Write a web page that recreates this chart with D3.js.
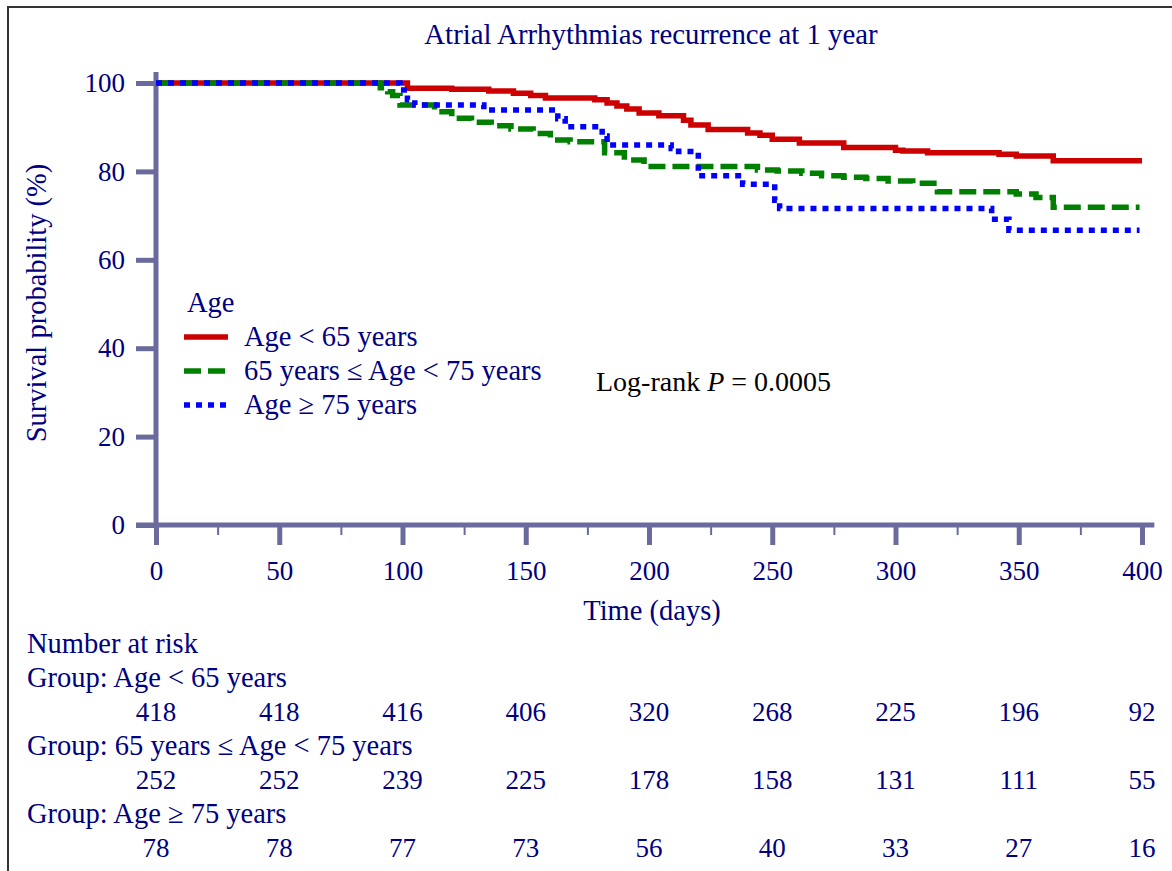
<!DOCTYPE html>
<html>
<head>
<meta charset="utf-8">
<script src="https://cdn.jsdelivr.net/npm/d3@7"></script>
<style>
  body { margin: 0; background: #fff; }
  svg { display: block; font-family: "Liberation Serif", "Times New Roman", serif; }
</style>
</head>
<body>
<div id="chart"></div>
<script>
// Kaplan-Meier steps (time in days, survival in %)
const lowTimes = [0, 102, 120, 135, 145, 152, 158, 178, 183, 187, 191, 196, 204, 214, 217, 224, 240, 245, 250, 261, 279, 300, 303, 313, 342, 349, 364, 400];
const lowSurv  = [100, 98.8, 98.6, 98.2, 97.7, 97.2, 96.6, 96.2, 95.5, 94.8, 94.1, 93.2, 92.6, 91.6, 90.5, 89.5, 88.7, 88.2, 87.3, 86.4, 85.4, 84.8, 84.6, 84.2, 83.9, 83.5, 82.4, 82.4];

const midTimes = [0, 91, 94, 96, 99, 113, 120, 128, 136, 144, 153, 160, 168, 182, 190, 198, 244, 252, 262, 270, 279, 288, 297, 307, 317, 349, 357, 364, 399];
const midSurv  = [100, 98.9, 98, 97.2, 95.0, 93.5, 92.0, 91.1, 90.3, 89.6, 88.6, 87.1, 86.7, 84.2, 82.6, 81.1, 80.3, 80.1, 79.6, 79.0, 78.7, 78.4, 77.8, 77.3, 75.4, 74.9, 74.1, 71.9, 71.9];

const highTimes = [0, 99, 102, 105, 133, 163, 166, 181, 183, 209, 212, 220, 238, 251, 253, 339, 346, 399];
const highSurv  = [100, 98.4, 96.2, 95.0, 93.9, 91.9, 90.1, 88.0, 86.0, 85.2, 84.5, 79.0, 77.1, 73.5, 71.6, 69.2, 66.7, 66.7];

const groupNames = ["Age < 65 years", "65 years \u2264 Age < 75 years", "Age \u2265 75 years"];
const groupColors = ["#cc0000", "#008000", "#0000ff"];
const groupDash = [null, "17,7", "6,6"];

const timeTicks = [0, 50, 100, 150, 200, 250, 300, 350, 400];
const minorTicks = [25, 75, 125, 175, 225, 275, 325, 375];
const survTicks = [0, 20, 40, 60, 80, 100];

const riskLow  = [418, 418, 416, 406, 320, 268, 225, 196, 92];
const riskMid  = [252, 252, 239, 225, 178, 158, 131, 111, 55];
const riskHigh = [78, 78, 77, 73, 56, 40, 33, 27, 16];

const width = 1172, height = 871;
const navy = "#000080", axisCol = "#6a6a9c";
const fs = 28.5;

const svg = d3.select("#chart").append("svg")
  .attr("width", width).attr("height", height);

// frame (cropped on right and bottom)
svg.append("path")
  .attr("d", `M8,${height + 5}V7H${width + 5}`)
  .attr("fill", "none").attr("stroke", "#333").attr("stroke-width", 2);

const x = d3.scaleLinear().domain([0, 400]).range([156, 1142]);
const y = d3.scaleLinear().domain([0, 100]).range([525, 83]);

// title
svg.append("text")
  .attr("x", x(200) + 2).attr("y", 44)
  .attr("text-anchor", "middle").attr("font-size", 28.8).attr("fill", navy)
  .text("Atrial Arrhythmias recurrence at 1 year");

// y axis
const yAxis = svg.append("g")
  .attr("transform", `translate(${x(0)},0)`)
  .call(d3.axisLeft(y).tickValues(survTicks).tickSize(20).tickSizeOuter(0).tickPadding(11));
yAxis.select(".domain").remove();
yAxis.selectAll("line").attr("stroke", axisCol).attr("stroke-width", 5);
yAxis.selectAll("text").attr("font-size", 27).attr("fill", navy)
  .attr("font-family", "Liberation Serif, Times New Roman, serif");
svg.append("line")
  .attr("x1", x(0)).attr("x2", x(0)).attr("y1", y(102.5)).attr("y2", y(0) + 2)
  .attr("stroke", axisCol).attr("stroke-width", 5);

// x axis
const xAxis = svg.append("g")
  .attr("transform", `translate(0,${y(0)})`)
  .call(d3.axisBottom(x).tickValues(timeTicks).tickSize(20).tickSizeOuter(0).tickPadding(16));
xAxis.select(".domain").remove();
xAxis.selectAll("line").attr("stroke", axisCol).attr("stroke-width", 5);
xAxis.selectAll("text").attr("font-size", 27).attr("fill", navy)
  .attr("font-family", "Liberation Serif, Times New Roman, serif");
const xMinor = svg.append("g")
  .attr("transform", `translate(0,${y(0)})`)
  .call(d3.axisBottom(x).tickValues(minorTicks).tickSize(10).tickFormat(""));
xMinor.select(".domain").remove();
xMinor.selectAll("line").attr("stroke", axisCol).attr("stroke-width", 2);
svg.append("line")
  .attr("x1", x(0) - 20).attr("x2", x(405)).attr("y1", y(0)).attr("y2", y(0))
  .attr("stroke", axisCol).attr("stroke-width", 5);

// axis labels
svg.append("text")
  .attr("transform", "rotate(-90)")
  .attr("x", -y(50) + 1).attr("y", 46)
  .attr("text-anchor", "middle").attr("font-size", fs).attr("fill", navy)
  .text("Survival probability (%)");
svg.append("text")
  .attr("x", x(200) + 3).attr("y", 620)
  .attr("text-anchor", "middle").attr("font-size", fs).attr("fill", navy)
  .text("Time (days)");

// curves
const line = d3.line()
  .x(d => x(d[0])).y(d => y(d[1]))
  .curve(d3.curveStepAfter);
const curves = [
  d3.zip(lowTimes, lowSurv),
  d3.zip(midTimes, midSurv),
  d3.zip(highTimes, highSurv)
];
curves.forEach((pts, i) => {
  svg.append("path")
    .datum(pts)
    .attr("d", line)
    .attr("fill", "none")
    .attr("stroke", groupColors[i])
    .attr("stroke-width", 5.5)
    .attr("stroke-dasharray", groupDash[i]);
});

// legend
svg.append("text")
  .attr("x", 187).attr("y", 312)
  .attr("font-size", fs).attr("fill", navy).text("Age");
groupNames.forEach((name, i) => {
  const ly = 337 + i * 34;
  svg.append("line")
    .attr("x1", 184).attr("x2", 228).attr("y1", ly).attr("y2", ly)
    .attr("stroke", groupColors[i]).attr("stroke-width", 5.5)
    .attr("stroke-dasharray", groupDash[i]);
  svg.append("text")
    .attr("x", 244).attr("y", ly + 9)
    .attr("font-size", fs).attr("fill", navy).text(name);
});

// log-rank annotation
const lr = svg.append("text")
  .attr("x", 596).attr("y", 391)
  .attr("font-size", 28).attr("fill", "#000");
lr.append("tspan").text("Log-rank ");
lr.append("tspan").attr("font-style", "italic").text("P");
lr.append("tspan").text(" = 0.0005");

// number at risk table
svg.append("text")
  .attr("x", 27).attr("y", 653)
  .attr("font-size", fs).attr("fill", navy).text("Number at risk");
const riskRows = [riskLow, riskMid, riskHigh];
riskRows.forEach((row, i) => {
  const gy = 687 + i * 68;
  svg.append("text")
    .attr("x", 27).attr("y", gy)
    .attr("font-size", fs).attr("fill", navy).text("Group: " + groupNames[i]);
  svg.append("g").selectAll("text")
    .data(row)
    .join("text")
      .attr("x", (d, j) => x(timeTicks[j]))
      .attr("y", gy + 34)
      .attr("text-anchor", "middle")
      .attr("font-size", 27)
      .attr("fill", navy)
      .text(d => d);
});
</script>
</body>
</html>
